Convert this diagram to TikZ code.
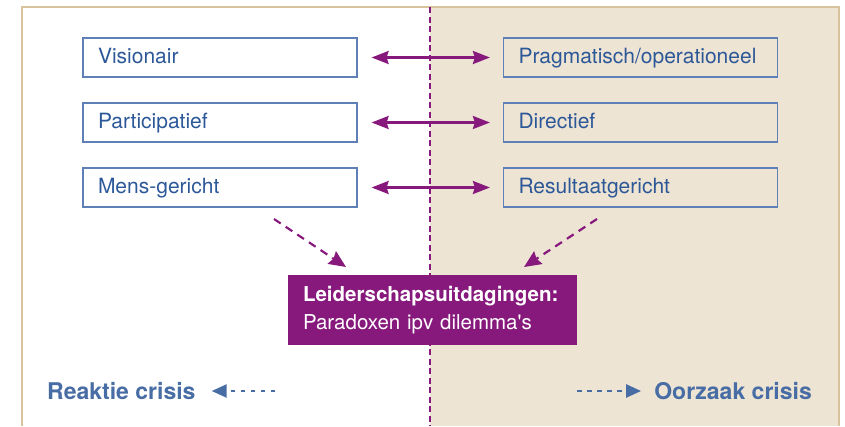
\documentclass[tikz,border=0pt]{standalone}
\usepackage{fontspec}
\setmainfont{TeX Gyre Heros}
\usepackage{tikz}
\usetikzlibrary{arrows.meta}
\definecolor{paars}{RGB}{135,25,125}
\definecolor{tekstblauw}{RGB}{45,88,152}
\definecolor{randblauw}{RGB}{95,128,182}
\definecolor{crisisblauw}{RGB}{72,108,164}
\definecolor{beige}{RGB}{237,228,212}
\definecolor{kader}{RGB}{216,196,156}

\begin{document}
\begin{tikzpicture}[x=1pt,y=-1pt,
	stijl/.style={draw=randblauw,line width=1.2pt,text=tekstblauw,minimum height=39pt,text width=244pt,text height=15pt,text depth=4pt,inner xsep=15pt,align=left,font=\fontsize{21}{25}\selectfont},
	paradox/.style={paars,line width=2.4pt,{Stealth[length=17pt,width=13pt,inset=2pt]}-{Stealth[length=17pt,width=13pt,inset=2pt]}},
	gevolg/.style={paars,line width=2.2pt,dash pattern=on 8pt off 6pt,-{Stealth[length=17pt,width=15pt,inset=2pt]}},
	crisis/.style={crisisblauw,line width=2.4pt,dash pattern=on 4.5pt off 5.5pt,-{Triangle[length=15pt,width=13pt]}},
	crisistekst/.style={text=crisisblauw,font=\fontsize{23}{27}\selectfont\bfseries,inner sep=0pt}
	]
				\def\links{22};
				\def\midden{430};
				\def\rechts{839};
				\useasboundingbox (0,0) rectangle (845,426);
				\fill[beige] (\midden,7) rectangle (\rechts,426);
				\draw[kader,line width=1.5pt] (\links,426) -- (\links,7) -- (\rechts,7) -- (\rechts,426);
				\draw[paars,line width=2pt,dash pattern=on 6pt off 3.5pt] (\midden,7) -- (\midden,426);
				% linker en rechter stijlen
				\node[stijl] (vis) at (220,57.5) {Visionair};
				\node[stijl] (part) at (220,122.5) {Participatief};
				\node[stijl] (mens) at (220,187.5) {Mens-gericht};
				\node[stijl] (prag) at (640.5,57.5) {Pragmatisch/operationeel};
				\node[stijl] (dir) at (640.5,122.5) {Directief};
				\node[stijl] (res) at (640.5,187.5) {Resultaatgericht};
				\foreach \l/\r in {vis/prag,part/dir,mens/res}
					\draw[paradox,shorten <=14pt,shorten >=13pt] (\l.east) -- (\r.west);
				\node[fill=paars,text=white,text width=259pt,inner xsep=15pt,minimum height=70pt,align=left,font=\fontsize{20.5}{28}\selectfont] (uitdaging) at (432.5,310) {{\bfseries Leiderschapsuitdagingen:}\\Paradoxen ipv dilemma\textquotesingle s};
				\coordinate (mensstart) at (274,219);
				\coordinate (mensend) at (346,267);
				\coordinate (resstart) at (597,219);
				\coordinate (resend) at (524,267);
				\draw[gevolg] (mensstart) -- (mensend);
				\draw[gevolg] (resstart) -- (resend);
				\node[crisistekst,anchor=west] (reaktie) at (47,391) {Reaktie crisis};
				\node[crisistekst,anchor=east] (oorzaak) at (812,391) {Oorzaak crisis};
				\coordinate (reaktiestart) at (275,391);
				\coordinate (oorzaakstart) at (577,391);
				\draw[crisis,shorten >=16pt] (reaktiestart) -- (reaktie.east);
				\draw[crisis,shorten >=13pt] (oorzaakstart) -- (oorzaak.west);
			\end{tikzpicture}
\end{document}
